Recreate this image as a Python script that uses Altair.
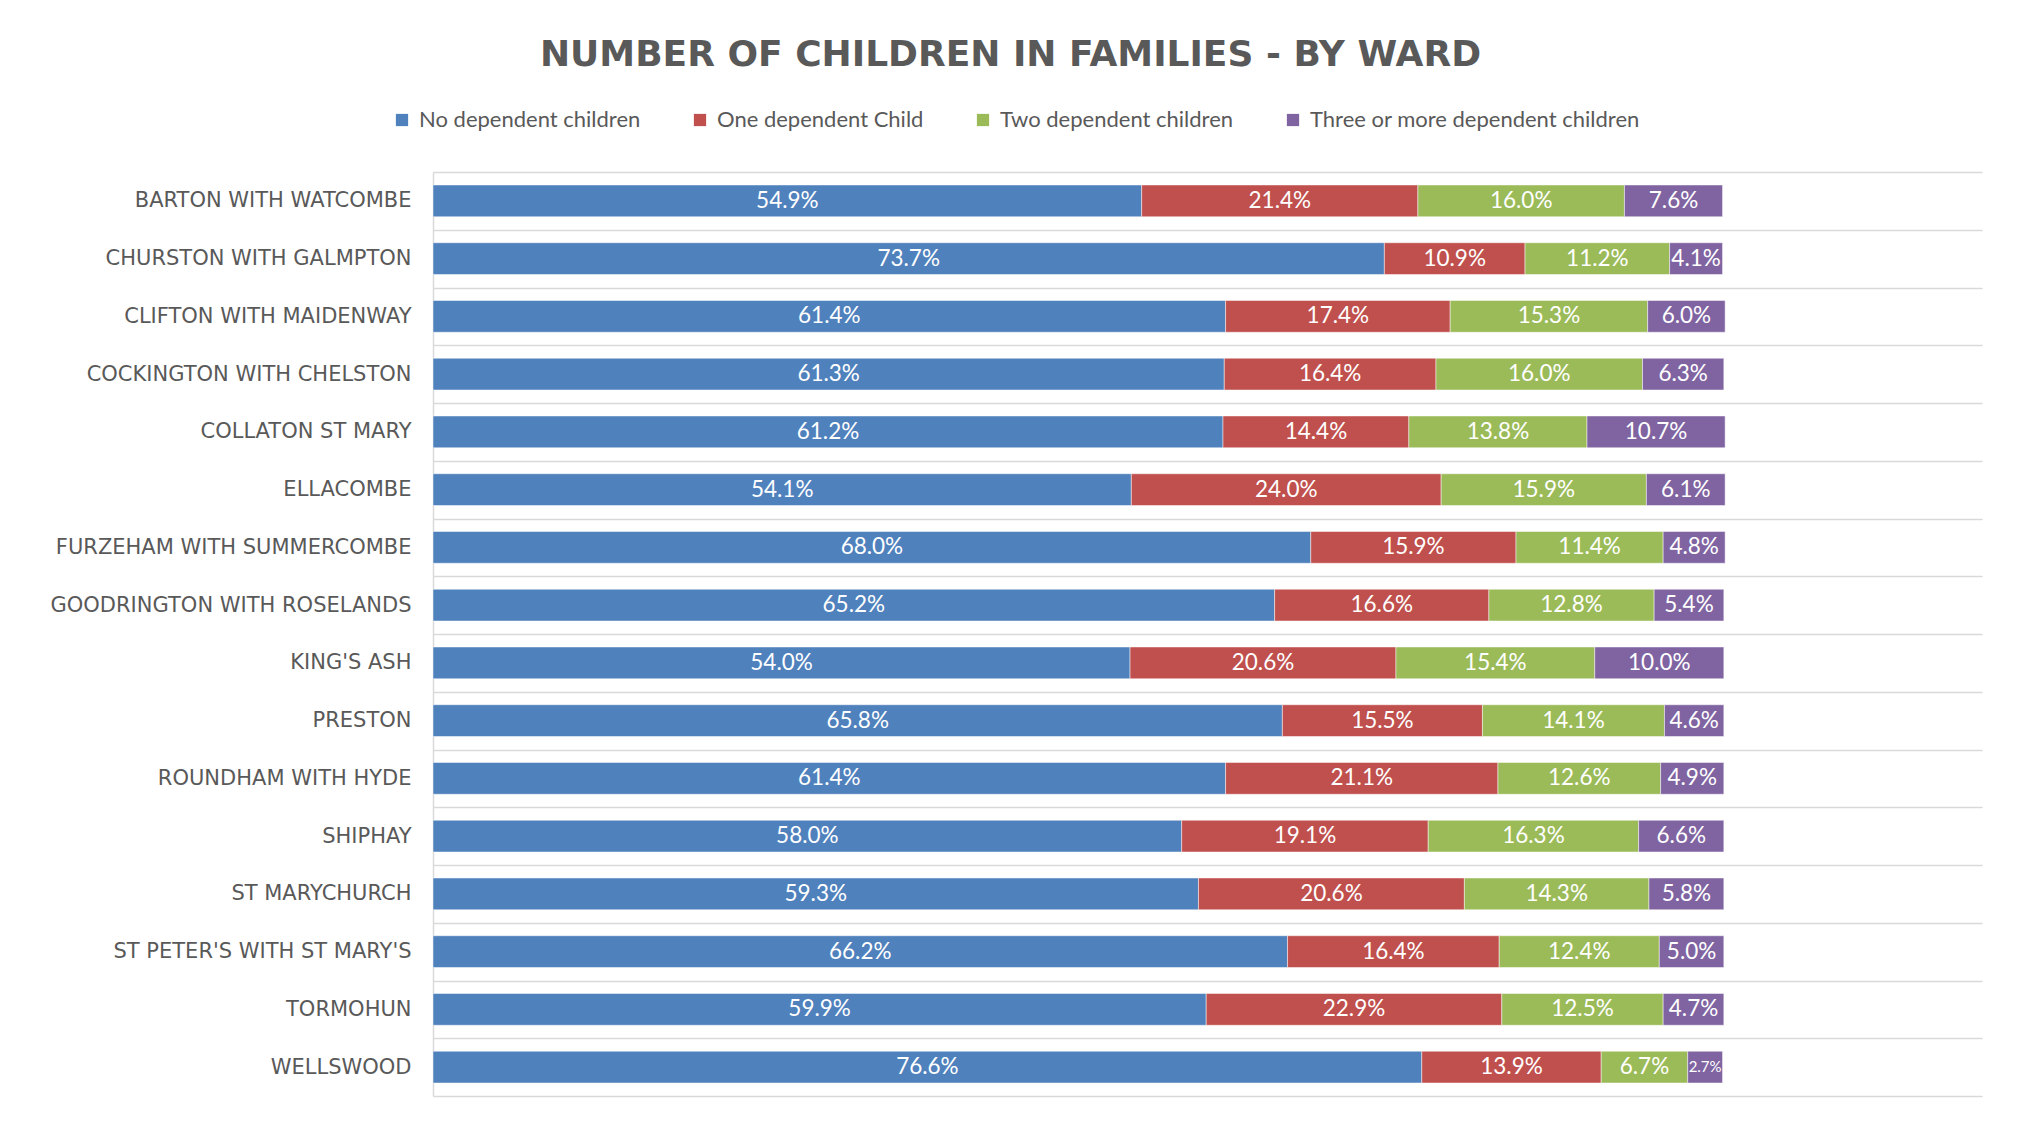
import altair as alt
import pandas as pd

wards = [
    "BARTON WITH WATCOMBE", "CHURSTON WITH GALMPTON", "CLIFTON WITH MAIDENWAY",
    "COCKINGTON WITH CHELSTON", "COLLATON ST MARY", "ELLACOMBE",
    "FURZEHAM WITH SUMMERCOMBE", "GOODRINGTON WITH ROSELANDS", "KING'S ASH",
    "PRESTON", "ROUNDHAM WITH HYDE", "SHIPHAY", "ST MARYCHURCH",
    "ST PETER'S WITH ST MARY'S", "TORMOHUN", "WELLSWOOD",
]
series = ["No dependent children", "One dependent Child",
          "Two dependent children", "Three or more dependent children"]
colors = ["#4F81BD", "#C0504D", "#9BBB59", "#8064A2"]

no_dep = [54.9, 73.7, 61.4, 61.3, 61.2, 54.1, 68.0, 65.2, 54.0, 65.8, 61.4, 58.0, 59.3, 66.2, 59.9, 76.6]
one_dep = [21.4, 10.9, 17.4, 16.4, 14.4, 24.0, 15.9, 16.6, 20.6, 15.5, 21.1, 19.1, 20.6, 16.4, 22.9, 13.9]
two_dep = [16.0, 11.2, 15.3, 16.0, 13.8, 15.9, 11.4, 12.8, 15.4, 14.1, 12.6, 16.3, 14.3, 12.4, 12.5, 6.7]
three_dep = [7.6, 4.1, 6.0, 6.3, 10.7, 6.1, 4.8, 5.4, 10.0, 4.6, 4.9, 6.6, 5.8, 5.0, 4.7, 2.7]

rows = []
for i, w in enumerate(wards):
    for j, (s, vals) in enumerate(zip(series, [no_dep, one_dep, two_dep, three_dep])):
        rows.append({"ward": w, "series": s, "order": j, "value": vals[i]})
df = pd.DataFrame(rows)

base = alt.Chart(df).transform_stack(
    stack="value", groupby=["ward"], as_=["x0", "x1"],
    sort=[alt.SortField("order", order="ascending")],
).transform_calculate(
    mid="(datum.x0 + datum.x1) / 2",
    label="format(datum.value, '.1f') + '%'",
)

xscale = alt.Scale(domain=[0, 120], nice=False, zero=True)
yenc = alt.Y(
    "ward:N", sort=wards,
    scale=alt.Scale(paddingInner=0, paddingOuter=0),
    axis=alt.Axis(
        title=None, ticks=False, domain=True, domainColor="#D9D9D9", domainWidth=1.5,
        grid=True, gridColor="#D9D9D9", gridWidth=1.5, tickBand="extent",
        labelFont="DejaVu Sans", labelFontSize=21, labelColor="#595959",
        labelPadding=22, labelLimit=500,
    ),
)

bars = base.mark_bar(stroke="white", strokeWidth=0.8, strokeOpacity=0.6,
                     height={"band": 0.55}).encode(
    x=alt.X("x0:Q", scale=xscale, axis=None),
    x2="x1:Q",
    y=yenc,
    color=alt.Color(
        "series:N", sort=series,
        scale=alt.Scale(domain=series, range=colors),
        legend=alt.Legend(
            title=None, orient="none", direction="horizontal",
            legendX=-42, legendY=-63, symbolType="square", symbolSize=150,
            symbolStrokeWidth=0, labelFont="Lato", labelFontSize=22,
            labelColor="#595959", columnPadding=48, labelOffset=6,
            labelLimit=600,
        ),
    ),
    order=alt.Order("order:Q"),
)

text = base.mark_text(color="white", font="Lato", baseline="middle", align="center").encode(
    x=alt.X("mid:Q", scale=xscale, axis=None),
    y=alt.Y("ward:N", sort=wards),
    text="label:N",
    size=alt.condition("datum.value < 3", alt.value(15), alt.value(22.5)),
)

chart = alt.layer(bars, text).properties(
    width=1549, height=924,
    title=alt.TitleParams(
        "NUMBER OF CHILDREN IN FAMILIES - BY WARD",
        font="DejaVu Sans", fontSize=36, fontWeight="bold", color="#595959",
        anchor="middle", offset=35, dx=-197,
    ),
    padding={"left": 425, "top": 164, "right": 20, "bottom": 10},
    autosize=alt.AutoSizeParams(type="none"),
).configure_view(stroke=None)

chart.save("out.html", embed_options={"renderer": "svg", "actions": False})
